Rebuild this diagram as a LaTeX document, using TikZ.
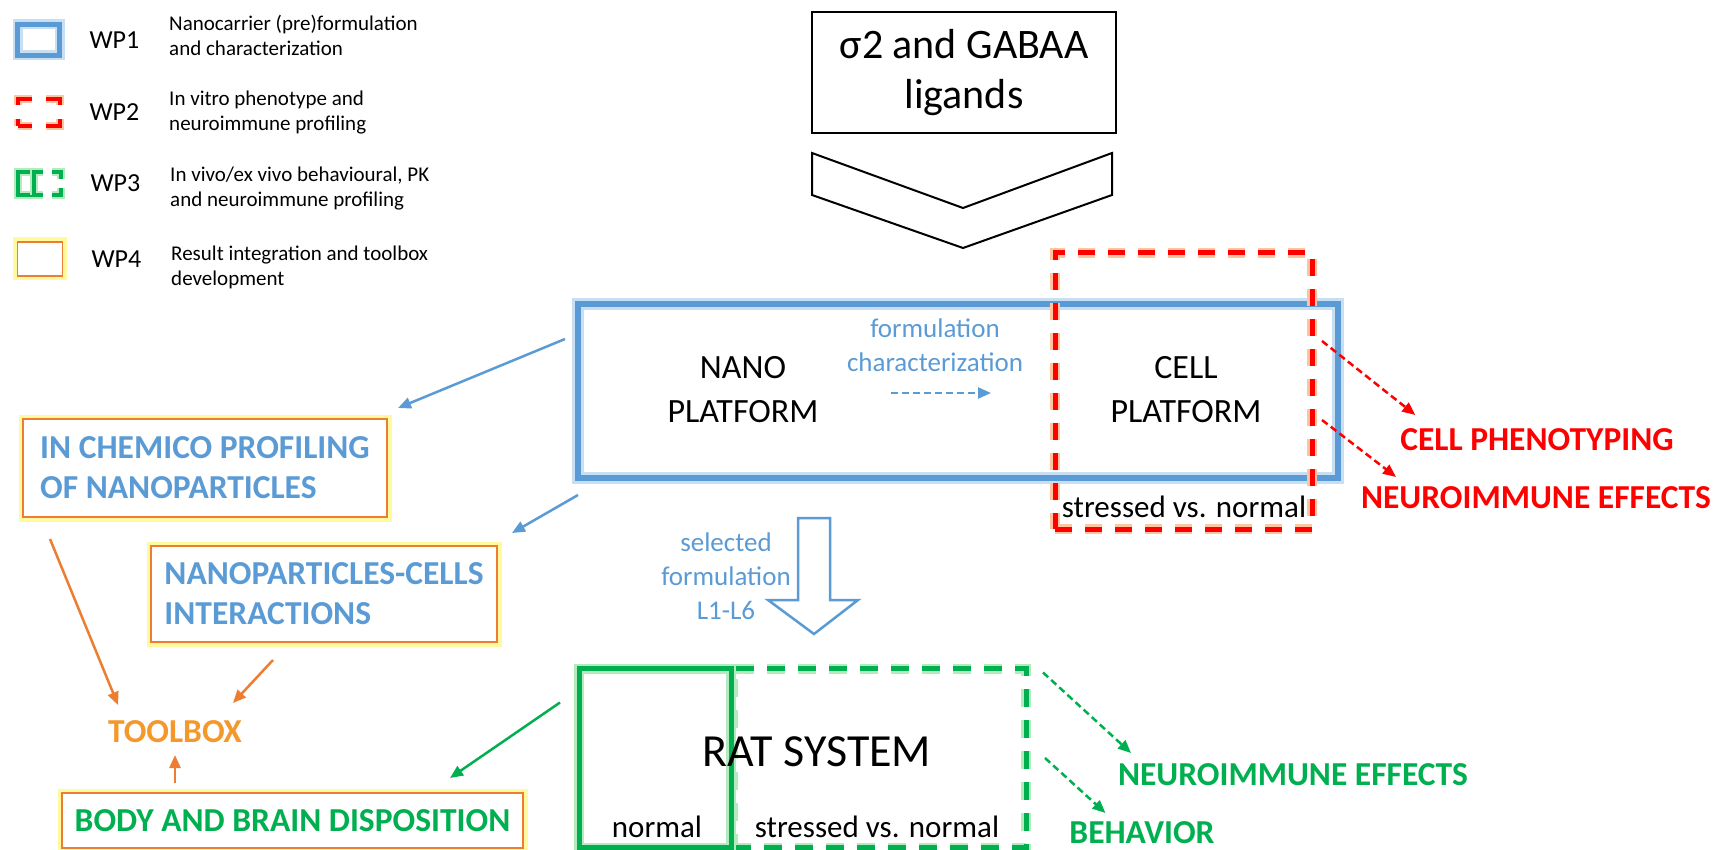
\documentclass[tikz,border=0pt]{standalone}
\usepackage{fontspec}
\setmainfont{Carlito}
\usetikzlibrary{arrows.meta,positioning}
\definecolor{wpblue}{RGB}{91,155,213}
\definecolor{wpred}{RGB}{255,0,0}
\definecolor{wpgreen}{RGB}{0,176,80}
\definecolor{wporange}{RGB}{237,125,49}
\definecolor{tbxorange}{RGB}{244,152,44}
\definecolor{glowblue}{RGB}{200,222,243}
\definecolor{glowred}{RGB}{255,196,160}
\definecolor{glowgreen}{RGB}{180,235,190}
\definecolor{glowyellow}{RGB}{255,250,160}

\begin{document}
\begin{tikzpicture}[x=1pt, y=-1pt,
  every node/.style={inner sep=0pt, outer sep=0pt, align=center},
  wpone/.style 2 args={draw=wpblue, line width=#1, preaction={draw=glowblue, line width=#2}},
  wptwo/.style 2 args={draw=wpred, line width=#1, preaction={draw=glowred, line width=#2}},
  wpthree/.style 2 args={draw=wpgreen, line width=#1, preaction={draw=glowgreen, line width=#2}},
  wpfour/.style={draw=wporange, line width=1.5pt, fill=white,
    preaction={draw=glowyellow, line width=9pt}},
  legtext/.style={font=\fontsize{21}{25}\selectfont, align=left},
  wplabel/.style={font=\fontsize{26}{30}\selectfont},
  plat/.style={font=\fontsize{34}{44}\selectfont},
  note/.style={font=\fontsize{31}{36}\selectfont},
  flow/.style={font=\fontsize{27}{34}\selectfont, text=wpblue},
  result/.style={font=\fontsize{33.5}{40}\selectfont\bfseries, minimum height=34pt},
  arr/.style={line width=2.5pt, -{Triangle[length=13pt,width=11pt]}},
  dasharr/.style={arr, dash pattern=on 7pt off 4pt}
]
\fill[white] (0,0) rectangle (1713,850);
\useasboundingbox (0,0) rectangle (1713,850);

% legend
\node[wpone={5pt}{10pt}, minimum width=42pt, minimum height=31pt] (ic1) at (38.5,40) {};
\node[wptwo={4pt}{8pt}, dash pattern=on 20.5pt off 14pt, dash phase=6.5pt,
  minimum width=42pt, minimum height=27pt, below=43.5pt of ic1] (ic2) {};
\node[wpthree={4pt}{8pt}, minimum width=16pt, minimum height=23pt,
  below=46pt of ic2.south west, anchor=north west] (ic3) {};
\node[wpthree={4pt}{8pt}, dash pattern=on 16pt off 9pt, dash phase=7pt,
  minimum width=27pt, minimum height=23pt, right=0pt of ic3] (ic3d) {};
\node[wpfour, minimum width=45pt, minimum height=34pt,
  below=47pt of ic3.south west, anchor=north west] (ic4) {};

\node[wplabel, right=30pt of ic1] (wp1) {WP1};
\node[wplabel, right=30pt of ic2] (wp2) {WP2};
\node[wplabel, right=30pt of ic3d] (wp3) {WP3};
\node[wplabel, right=29pt of ic4] (wp4) {WP4};

\node[legtext, right=30pt of wp1, yshift=5pt] (d1) {Nanocarrier (pre)formulation\\and characterization};
\node[legtext, right=30pt of wp2] (d2) {In vitro phenotype and\\neuroimmune profiling};
\node[legtext, right=30pt of wp3, yshift=-5pt] (d3) {In vivo/ex vivo behavioural, PK\\and neuroimmune profiling};
\node[legtext, right=30pt of wp4, yshift=-8pt] (d4) {Result integration and toolbox\\development};

% ligands and platforms
\node[draw, line width=2pt, minimum width=304pt, minimum height=121pt,
  font=\fontsize{42}{50}\selectfont] (lig) at (964,72.5) {σ2 and GABAA\\ligands};
\draw[line width=2pt] (812,153) -- (963,208) -- (1112,153) -- (1112,195)
  -- (963,248) -- (812,195) -- cycle;

\node[wpone={6pt}{12pt}, minimum width=760pt, minimum height=174pt] (nano) at (958,391) {};
\node[wptwo={5pt}{10pt}, dash pattern=on 17pt off 13pt,
  minimum width=257pt, minimum height=276pt] (cellwp) at (1183.5,391) {};

\node[plat] (nanotxt) at (743,390) {NANO\\PLATFORM};
\node[plat] (celltxt) at (1186,390) {CELL\\PLATFORM};
\node[flow] (form) at (935,345) {formulation\\characterization};
\node[note] (cellnote) at (1184,507) {stressed vs. normal};

\node[result, text=wpred] (pheno) at (1537,440) {CELL PHENOTYPING};
\node[result, text=wpred] (neuroR) at (1536,498) {NEUROIMMUNE EFFECTS};

% WP4 boxes
\node[wpfour, result, text=wpblue, align=left, minimum width=364pt, minimum height=98pt] (chem)
  at (205,468) {IN CHEMICO PROFILING\\OF NANOPARTICLES};
\node[wpfour, result, text=wpblue, align=left, minimum width=346pt, minimum height=96pt] (nanocell)
  at (324,594) {NANOPARTICLES-CELLS\\INTERACTIONS};
\node[result, text=tbxorange, minimum height=30pt] (tool) at (175,732) {TOOLBOX};
\node[wpfour, result, text=wpgreen, minimum width=461pt, minimum height=55pt] (body)
  at (292.5,820.5) {BODY AND BRAIN DISPOSITION};

% selected formulation
\draw[wpblue, line width=2.5pt] (798,518) -- (830,518) -- (830,600) -- (858,600)
  -- (814,634) -- (768,600) -- (798,600) -- cycle;
\node[flow] (seltxt) at (726,576) {selected\\formulation\\L1-L6};

% rat system
\node[wpthree={5pt}{10pt}, dash pattern=on 18pt off 13pt,
  minimum width=293pt, minimum height=179pt] (rats) at (879.5,758) {};
\node[wpthree={5pt}{10pt}, minimum width=152pt, minimum height=179pt] (ratn) at (655,758) {};
\node[font=\fontsize{46}{54}\selectfont] (rattxt) at (817,752) {RAT SYSTEM};
\node[note] (ratnorm) at (657,827) {normal};
\node[note] (ratstress) at (877,827) {stressed vs. normal};

\node[result, text=wpgreen] (neuroG) at (1293,775) {NEUROIMMUNE EFFECTS};
\node[result, text=wpgreen] (behav) at (1142,833) {BEHAVIOR};

% connectors
\draw[dasharr, wpblue] ([xshift=-44pt,yshift=-48pt]form.center) -- ([xshift=56pt,yshift=-48pt]form.center);
\draw[arr, wpblue] ([xshift=-13pt,yshift=52pt]nano.west) -- ([xshift=11pt,yshift=11pt]chem.north east);
\draw[arr, wpblue] ([yshift=-17pt]nano.south west) -- ([xshift=15pt,yshift=13pt]nanocell.north east);
\draw[arr, wporange] ([xshift=27pt,yshift=-22pt]chem.south west) -- ([xshift=10pt,yshift=12pt]tool.north west);
\draw[arr, wporange] ([xshift=-51pt,yshift=-18pt]nanocell.south) -- ([xshift=-9pt,yshift=14pt]tool.north east);
\draw[arr, wporange] ([xshift=-117.5pt,yshift=10pt]body.north) -- ([yshift=-8pt]tool.south);
\draw[arr, wpgreen] ([xshift=-19pt,yshift=-34pt]ratn.north west) -- ([xshift=-73pt,yshift=15pt]body.north east);
\draw[dasharr, wpred] ([xshift=10pt,yshift=50pt]cellwp.east) -- ([xshift=15pt,yshift=8pt]pheno.north west);
\draw[dasharr, wpred] ([xshift=10pt,yshift=-29pt]cellwp.east) -- ([xshift=35pt,yshift=4pt]neuroR.north west);
\draw[dasharr, wpgreen] ([xshift=17pt,yshift=-4pt]rats.north east) -- ([xshift=13pt,yshift=5pt]neuroG.north west);
\draw[dasharr, wpgreen] ([xshift=19pt]rats.east) -- ([xshift=36pt,yshift=3pt]behav.north west);
\end{tikzpicture}
\end{document}
